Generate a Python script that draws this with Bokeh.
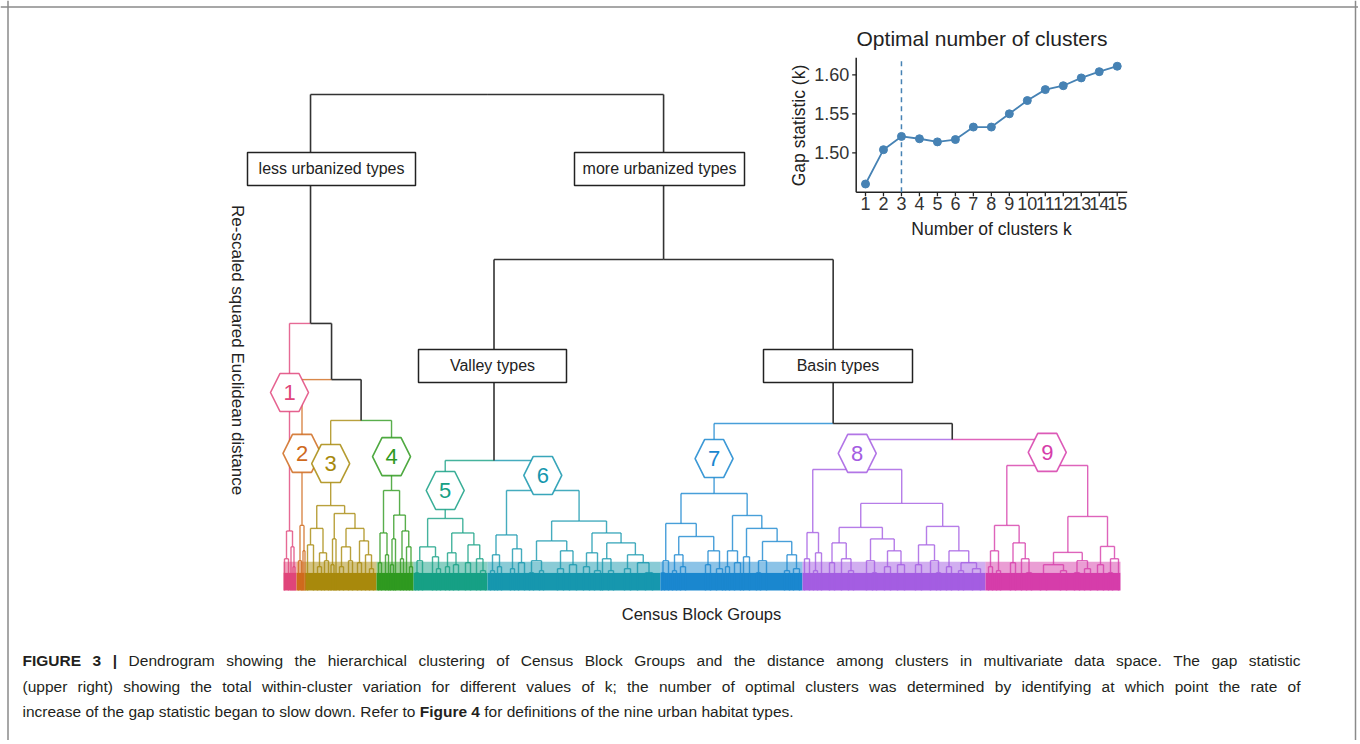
import math
from bokeh.plotting import figure
from bokeh.models import Range1d, Label, Span
from bokeh.embed import file_html
from bokeh.resources import INLINE
from bokeh.core.properties import value

# ---------------- dendrogram data ----------------
# node = [merge height (re-scaled distance), left, right]; leaf = leaf order position
cluster_names = ["1", "2", "3", "4", "5", "6", "7", "8", "9"]
cluster_colors = ["#E0457B", "#CF6A1D", "#A8890C", "#2F9A1F", "#16A085",
                  "#1697AE", "#1A87CF", "#A45DE2", "#D63DAA"]

C1 = [3.0, [1.6, 1, 5], [2.2, 7.5, [1.2, 9.5, 11.5]]]
C2 = [3.28, [1.5, 15, 18], [2.0, 19.5, 21.5]]
C3 = [4.28,
      [3.13, [2.3, 24, 30], [1.9, [1.2, 34, 38], [1.5, 41, 45]]],
      [3.88, [2.6, [1.3, 47.5, 50.5], 52.5],
       [3.13, [2.2, [1.2, 56, 60], [1.5, 65, 69]],
        [2.5, [1.4, 74, 78], [1.8, 82, [1.1, 86, 90]]]]]]
C4 = [5.04, [2.9, [1.4, 95, 98], [1.8, 102, 105]],
      [3.8, [2.6, [1.3, 107, 110], 112], [3.0, [1.6, 117, 120], [2.2, 123, [1.2, 126, 129]]]]]
C5 = [3.63, [2.2, [1.5, [0.9, 132, 135], 139], [1.7, 149, [1.1, 153, 157]]],
      [2.9, [1.9, [1.2, 162, 166], [1.3, 170, 175]], [2.3, [1.4, 182, 187], [1.6, 193, [1.0, 197, 202]]]]]
C6 = [5.04,
      [2.8, [1.8, [1.0, 207, 211], [1.2, 214, 218]], [2.1, [1.1, 227, 231], [1.4, 235, 241]]],
      [3.5,
       [2.5, [1.5, [0.9, 246, 250], [1.0, 256, 260]], [2.0, [1.1, 274, 280], [1.3, 286, 293]]],
       [2.9, [1.9, [1.2, 300, 306], [1.0, 311, 317]],
        [2.4, [1.6, 319, [1.0, 325, 330]], [1.8, [1.1, 341, 347], [1.4, 354, [0.9, 362, 369]]]]]]]
C7 = [4.89,
      [3.38, [1.5, [0.9, 378, 381], 385],
       [2.72, [1.8, [1.0, 389, 393], [1.2, 397, 402]], [2.0, [1.3, 422, 427], [1.1, 433, 439]]]],
      [3.78, [2.0, [1.2, 442, 446], [1.4, 451, 457]],
       [3.13, [1.7, 460, 466], [2.47, [1.5, [0.9, 473, 477], 483], [1.8, [1.0, 501, 506], [1.1, 510, 516]]]]]]
C8 = [6.10,
      [2.92, [1.6, 521, 526], [1.9, [1.0, 530, 534], 538]],
      [4.39,
       [3.18, [2.4, [1.4, 546, 551], [1.6, 558, [1.0, 565, 570]]],
        [2.6, [1.5, 583, [0.9, 589, 593]], [2.0, [1.2, 601, 607], [1.3, 614, 621]]]],
       [3.23, [2.3, [1.3, 632, 638], [1.5, 647, [0.9, 653, 657]]],
        [2.0, [1.2, 663, 668], [1.4, [1.0, 675, 680], [1.1, 689, 697]]]]]]
C9 = [6.30,
      [3.28, [2.0, [1.2, 705, 709], [1.0, 713, 717]], [2.4, [1.4, 727, 732], [1.6, 738, [0.9, 743, 748]]]],
      [3.73, [1.92, [1.3, [0.8, 757, 763], [1.0, 777, 783]], [1.5, [0.9, 791, 796], [1.1, 801, 807]]],
       [2.22, [1.3, 814, 820], [1.6, [0.9, 825, 829], 835]]]]
clusters = [C1, C2, C3, C4, C5, C6, C7, C8, C9]
dendrogram = [25.0,
              [13.46, C1, [10.63, C2, [8.57, C3, C4]]],
              [16.68, [6.55, C5, C6], [8.42, C7, [7.61, C8, C9]]]]
cluster_leaf_edges = [0, 13, 21, 93, 130, 204, 377, 519, 702, 837]
marker_heights = [9.98, 6.91, 6.40, 6.75, 5.04, 5.80, 6.65, 6.91, 6.96]

group_names = ["less urbanized types", "more urbanized types", "Valley types", "Basin types"]
group_x = [48, 376, 209, 554.5]
group_h = [21.25, 21.25, 11.32, 11.32]

# ---------------- gap statistic data ----------------
k_values = list(range(1, 16))
gap_values = [1.460, 1.504, 1.521, 1.518, 1.514, 1.517, 1.533, 1.533,
              1.550, 1.567, 1.581, 1.586, 1.596, 1.604, 1.611]
gap_ticks = [1.50, 1.55, 1.60]
gap_tick_labels = ["1.50", "1.55", "1.60"]
k_tick_labels = ["1", "2", "3", "4", "5", "6", "7", "8", "9", "10", "11", "12", "13", "14", "15"]
k_optimal = 3

# ---------------- caption ----------------
caption_lines = [
    [("FIGURE 3 |", True), ("Dendrogram showing the hierarchical clustering of Census Block Groups and the "
                            "distance among clusters in multivariate data space. The gap statistic", False)],
    [("(upper right) showing the total within-cluster variation for different values of k; the number of "
      "optimal clusters was determined by identifying at which point the rate of", False)],
    [("increase of the gap statistic began to slow down. Refer to", False), ("Figure 4", True),
     ("for definitions of the nine urban habitat types.", False)],
]

# ---------------- layout ----------------
W, H = 1358, 740
D_X0, D_Y0, D_PPH = 283.0, 590.0, 19.84


def dx(X):
    return X - D_X0


def dh(Y):
    return (D_Y0 - Y) / D_PPH


I_X1, I_PPK, I_Y150, I_PPG = 865.0, 17.98, 152.3, 780.0


def ik(X):
    return 1 + (X - I_X1) / I_PPK


def ig(Y):
    return 1.5 + (I_Y150 - Y) / I_PPG


def sx(X):
    return X


def sy(Y):
    return H - Y


FONT = "Liberation Sans"
BLACK = "#333333"

p = figure(width=W, height=H, output_backend="svg", toolbar_location=None,
           x_axis_location=None, y_axis_location=None, min_border=0,
           x_range=Range1d(dx(0), dx(W)), y_range=Range1d(dh(H), dh(0)))
p.extra_x_ranges = {"k": Range1d(ik(0), ik(W))}
p.extra_y_ranges = {"g": Range1d(ig(H), ig(0))}
p.outline_line_color = None
p.xgrid.visible = False
p.ygrid.visible = False
p.title.visible = False
p.background_fill_color = "white"
p.border_fill_color = "white"

# frame border (left, top, right)
for loc in (dx(7.5), dx(1355.0)):
    p.add_layout(Span(location=loc, dimension="height", line_color="#8a8a8a", line_width=1.5))
p.add_layout(Span(location=dh(6.5), dimension="width", line_color="#8a8a8a", line_width=1.5))

# ---- dendrogram geometry via tree walk ----
cluster_index = {id(c): i for i, c in enumerate(clusters)}
node_x = {}
segs = {"x0": [], "y0": [], "x1": [], "y1": [], "c": []}
bsegs = {"x0": [], "y0": [], "x1": [], "y1": [], "c": []}


def add(x0, y0, x1, y1, col):
    d = bsegs if col == BLACK else segs
    d["x0"].append(x0); d["y0"].append(y0); d["x1"].append(x1); d["y1"].append(y1); d["c"].append(col)


def walk(node, color):
    if not isinstance(node, list):
        return float(node), 0.0, color
    if id(node) in cluster_index:
        color = cluster_colors[cluster_index[id(node)]]
    h, left, right = node
    kids = [walk(left, color), walk(right, color)]
    x = (kids[0][0] + kids[1][0]) / 2
    for cx, ch, ccol in kids:
        add(cx, ch, cx, h, ccol)
        add(cx, h, x, h, ccol)
    node_x[id(node)] = x
    return x, h, color


walk(dendrogram, BLACK)

# dense leaf band
p.quad(left=cluster_leaf_edges[:-1], right=cluster_leaf_edges[1:], bottom=0, top=0.9,
       fill_color=cluster_colors, line_color=None)
p.quad(left=cluster_leaf_edges[:-1], right=cluster_leaf_edges[1:], bottom=0.9, top=1.45,
       fill_color=cluster_colors, fill_alpha=0.5, line_color=None)

p.segment(x0=segs["x0"], y0=segs["y0"], x1=segs["x1"], y1=segs["y1"],
          line_color=segs["c"], line_width=1.4, line_alpha=0.8)
p.segment(x0=bsegs["x0"], y0=bsegs["y0"], x1=bsegs["x1"], y1=bsegs["y1"],
          line_color=BLACK, line_width=1.6)

# cluster hexagon markers
HEX_W, HEX_H = 38.0, 38.0
hx = [node_x[id(c)] for c in clusters]
hex_xs = [[x + HEX_W / 2 * u for u in (-1, -0.5, 0.5, 1, 0.5, -0.5)] for x in hx]
hex_ys = [[h + HEX_H / 2 / D_PPH * u for u in (0, 1, 1, 0, -1, -1)] for h in marker_heights]
p.patches(xs=hex_xs, ys=hex_ys, fill_color="white", line_color=cluster_colors, line_width=1.6, line_alpha=0.85)
p.text(x=hx, y=marker_heights, text=cluster_names, text_color=cluster_colors,
       text_align="center", text_baseline="middle", text_font_size="22px", text_font=value(FONT))

# group boxes
BOX_W = [168, 170, 148, 149]
p.rect(x=group_x, y=group_h, width=BOX_W, height=33, width_units="screen", height_units="screen",
       fill_color="white", line_color="#222222", line_width=1.5)
p.text(x=group_x, y=group_h, text=group_names, text_align="center", text_baseline="middle",
       text_font_size="16px", text_font=value(FONT), text_color="#222222")

# ---- inset: gap statistic ----
K_L, K_R = ik(855.7), ik(1126.7)
G_B, G_T = ig(191.7), ig(57.3)
TICK = 4.0
p.segment(x0=[K_L, K_L], y0=[G_B, G_B], x1=[K_L, K_R], y1=[G_T, G_B],
          x_range_name="k", y_range_name="g", line_color="#222222", line_width=1.5)
p.segment(x0=[K_L] * len(gap_ticks), y0=gap_ticks, x1=[K_L - TICK / I_PPK] * len(gap_ticks), y1=gap_ticks,
          x_range_name="k", y_range_name="g", line_color="#222222", line_width=1.3)
p.segment(x0=k_values, y0=[G_B] * len(k_values), x1=k_values, y1=[G_B - TICK / I_PPG] * len(k_values),
          x_range_name="k", y_range_name="g", line_color="#222222", line_width=1.3)
p.text(x=[K_L] * len(gap_ticks), y=gap_ticks, text=gap_tick_labels, x_offset=-7,
       x_range_name="k", y_range_name="g", text_align="right", text_baseline="middle",
       text_font_size="18px", text_font=value(FONT), text_color="#333333")
p.text(x=k_values, y=[G_B] * len(k_values), text=k_tick_labels, y_offset=5,
       x_range_name="k", y_range_name="g", text_align="center", text_baseline="top",
       text_font_size="18px", text_font=value(FONT), text_color="#333333")
p.segment(x0=[k_optimal], y0=[G_B], x1=[k_optimal], y1=[G_T], x_range_name="k", y_range_name="g",
          line_color="#4682B4", line_width=1.5, line_dash="5 4")
p.line(k_values, gap_values, x_range_name="k", y_range_name="g", line_color="#4682B4", line_width=1.8)
p.scatter(k_values, gap_values, x_range_name="k", y_range_name="g", size=8,
          fill_color="#4682B4", line_color="#4682B4")


def lab(text, X, Y, size, align="center", angle=0.0, style="normal", color="#222222", font=FONT):
    p.add_layout(Label(x=sx(X), y=sy(Y), x_units="screen", y_units="screen", text=text,
                       text_align=align, text_baseline="middle", text_font_size=size,
                       text_font=font, text_font_style=style, text_color=color, angle=angle))


lab("Optimal number of clusters", 981.5, 38, "21px")
lab("Number of clusters k", 991, 228, "17.5px")
lab("Gap statistic (k)", 798, 125, "17.5px", angle=math.pi / 2)
lab("Re-scaled squared  Euclidean distance", 237, 352, "17px", angle=-math.pi / 2)
lab("Census Block Groups", 701, 613, "16.5px")

# ---- caption: justified text (Arial / Liberation Sans metrics) ----
REG = {" ": 278, "(": 333, ")": 333, ",": 278, "-": 333, ".": 278, ";": 278, "|": 260}
for ch, wv in zip("ABCDEFGHIJKLMNOPQRSTUVWXYZ",
                  [667, 667, 722, 722, 667, 611, 778, 722, 278, 500, 667, 556, 833, 722, 778, 667, 778,
                   722, 667, 611, 722, 667, 944, 667, 667, 611]):
    REG[ch] = wv
for ch, wv in zip("abcdefghijklmnopqrstuvwxyz",
                  [556, 556, 500, 556, 556, 278, 556, 556, 222, 222, 500, 222, 833, 556, 556, 556, 556,
                   333, 500, 278, 556, 500, 722, 500, 500, 500]):
    REG[ch] = wv
BOLD = {" ": 278, "|": 280, "F": 611, "I": 278, "G": 778, "U": 722, "R": 722, "E": 667,
        "i": 278, "g": 611, "u": 611, "r": 389, "e": 556}
CAP_PX = 15.5


def tw(s, bold):
    tbl = BOLD if bold else REG
    return sum(tbl.get(ch, 556) for ch in s) * CAP_PX / 1000


CAP_X0, CAP_X1 = 22.0, 1300.0
CAP_Y = [660, 686, 711]
wx, wy, wt, wstyle = [], [], [], []
for li, line in enumerate(caption_lines):
    words = []
    for chunk, bold in line:
        for w in chunk.split(" "):
            words.append((w, bold))
    widths = [tw(w, b) for w, b in words]
    if li < len(caption_lines) - 1:
        gap = (CAP_X1 - CAP_X0 - sum(widths)) / (len(words) - 1)
    else:
        gap = 278 * CAP_PX / 1000
    X = CAP_X0
    for (w, b), wd in zip(words, widths):
        wx.append(dx(X)); wy.append(dh(CAP_Y[li])); wt.append(w)
        wstyle.append("bold" if b else "normal")
        X += wd + gap

p.text(x=wx, y=wy, text=wt, text_font_style=wstyle, text_align="left", text_baseline="middle",
       text_font_size=f"{CAP_PX}px", text_font=value(FONT), text_color="#231F20")

open("out.html", "w").write(file_html(p, INLINE))
